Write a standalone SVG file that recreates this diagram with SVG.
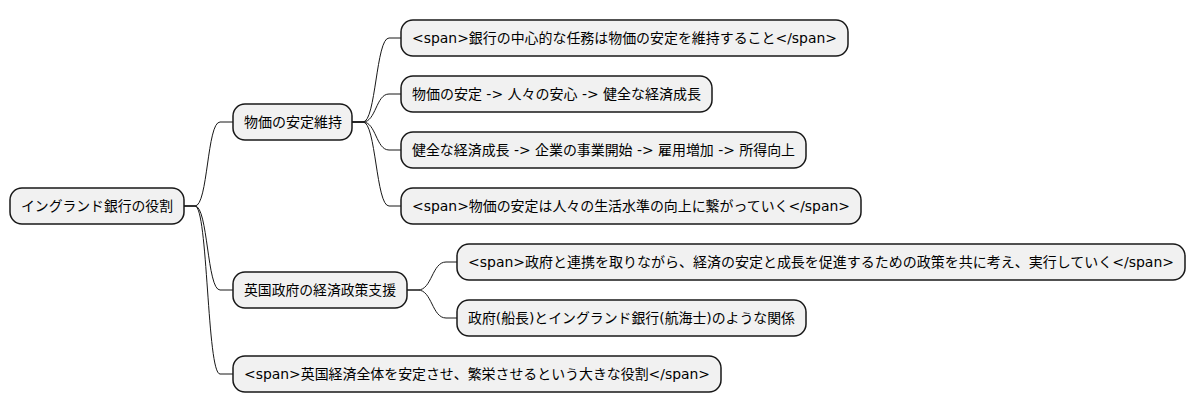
<svg xmlns="http://www.w3.org/2000/svg" width="1195" height="415" viewBox="0 0 1195 415">
<style>
.n rect{fill:#F1F1F1;stroke:#181818;stroke-width:1.5}
.n text{font-family:"DejaVu Sans","Noto Sans CJK JP",sans-serif;font-size:14px;fill:#000}
.c path{fill:none;stroke:#181818;stroke-width:1}
</style>
<rect width="1195" height="415" fill="#FFFFFF"/>
<g class="c" id="connectors">
<path d="M184,206 L195,206 C208,206 207,122 220,122 L233,122"/>
<path d="M184,206 L195,206 C208,206 207,290 220,290 L233,290"/>
<path d="M184,206 L195,206 C208,206 207,374 220,374 L233,374"/>
<path d="M352,122 L363,122 C376,122 376,38 389,38 L401,38"/>
<path d="M352,122 L363,122 C376,122 376,94 389,94 L401,94"/>
<path d="M352,122 L363,122 C376,122 376,150 389,150 L401,150"/>
<path d="M352,122 L363,122 C376,122 376,206 389,206 L401,206"/>
<path d="M407,290 L418,290 C432,290 432,262 446,262 L457,262"/>
<path d="M407,290 L418,290 C432,290 432,318 446,318 L457,318"/>
</g>
<g class="n" id="root"><rect x="10" y="188" width="174" height="36" rx="12"/><text x="21" y="211" textLength="152" lengthAdjust="spacingAndGlyphs">イングランド銀行の役割</text></g>
<g class="n" id="n1"><rect x="233" y="104" width="119" height="36" rx="12"/><text x="244" y="127" textLength="98" lengthAdjust="spacingAndGlyphs">物価の安定維持</text></g>
<g class="n" id="n11"><rect x="401" y="20" width="447" height="36" rx="12"/><text x="412" y="43" textLength="425" lengthAdjust="spacingAndGlyphs">&lt;span&gt;銀行の中心的な任務は物価の安定を維持すること&lt;/span&gt;</text></g>
<g class="n" id="n12"><rect x="401" y="76" width="311" height="36" rx="12"/><text x="412" y="99" textLength="289" lengthAdjust="spacingAndGlyphs">物価の安定 -&gt; 人々の安心 -&gt; 健全な経済成長</text></g>
<g class="n" id="n13"><rect x="401" y="132" width="405" height="36" rx="12"/><text x="412" y="155" textLength="383" lengthAdjust="spacingAndGlyphs">健全な経済成長 -&gt; 企業の事業開始 -&gt; 雇用増加 -&gt; 所得向上</text></g>
<g class="n" id="n14"><rect x="401" y="188" width="460" height="36" rx="12"/><text x="412" y="211" textLength="438" lengthAdjust="spacingAndGlyphs">&lt;span&gt;物価の安定は人々の生活水準の向上に繋がっていく&lt;/span&gt;</text></g>
<g class="n" id="n2"><rect x="233" y="272" width="174" height="36" rx="12"/><text x="244" y="295" textLength="152" lengthAdjust="spacingAndGlyphs">英国政府の経済政策支援</text></g>
<g class="n" id="n21"><rect x="457" y="244" width="728" height="36" rx="12"/><text x="468" y="267" textLength="706" lengthAdjust="spacingAndGlyphs">&lt;span&gt;政府と連携を取りながら、経済の安定と成長を促進するための政策を共に考え、実行していく&lt;/span&gt;</text></g>
<g class="n" id="n22"><rect x="457" y="300" width="349" height="36" rx="12"/><text x="468" y="323" textLength="327" lengthAdjust="spacingAndGlyphs">政府(船長)とイングランド銀行(航海士)のような関係</text></g>
<g class="n" id="n3"><rect x="233" y="356" width="488" height="36" rx="12"/><text x="244" y="379" textLength="466" lengthAdjust="spacingAndGlyphs">&lt;span&gt;英国経済全体を安定させ、繁栄させるという大きな役割&lt;/span&gt;</text></g>
</svg>
